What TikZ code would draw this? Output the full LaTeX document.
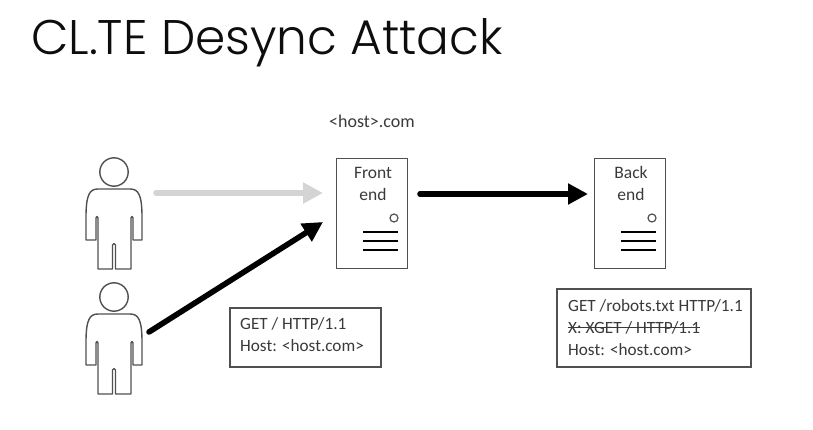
\documentclass[tikz,border=0pt]{standalone}
\usepackage{fontspec}
\setmainfont{Carlito}
\newfontfamily\titlefont{Poppins Light}
\definecolor{ink}{HTML}{3A3A3A}
\definecolor{edge}{HTML}{505050}
\definecolor{paleflow}{HTML}{D4D4D4}
\usetikzlibrary{arrows.meta}
\tikzset{
  x=1pt,y=-1pt,
  body/.style={draw=edge,line width=1.4pt,fill=white,line join=round},
  serverbox/.style={draw=edge,line width=1.2pt,fill=white,minimum width=71pt,minimum height=110.5pt,inner sep=0pt},
  labelbox/.style={draw=edge,line width=1.2pt,fill=white,inner sep=0pt},
  lbl/.style={text=ink,font=\fontsize{17.2pt}{20pt}\selectfont,inner sep=0pt},
  flow/.style={line width=5.6pt,line cap=round,-{Triangle[length=20pt,width=20pt]}},
  rack/.style={line width=2pt,black},
}
\begin{document}
\begin{tikzpicture}
\useasboundingbox (0,0) rectangle (813,430);
\fill[white] (0,0) rectangle (813,430);
\node[anchor=base west,inner sep=0pt,text=black!95,font=\titlefont\fontsize{48.6pt}{50pt}\selectfont] (title) at (31,54.5) {CL.TE Desync Attack};
\node[lbl,font=\fontsize{18pt}{20pt}\selectfont] (host) at (372,121) {<host>.com};

% people
\foreach \n/\y in {usera/172,userb/297}{
  \draw[body] (114,\y) circle (14.2);
  \draw[body] (86,\y+45) .. controls (86,\y+22) and (90,\y+17) .. (98,\y+17) -- (130,\y+17)
    .. controls (138,\y+17) and (142,\y+22) .. (142,\y+45) -- (142,\y+68) -- (133,\y+68) -- (133,\y+46)
    .. controls (133,\y+44) and (131,\y+44) .. (131,\y+46) -- (131,\y+97) -- (115.5,\y+97) -- (115.5,\y+73)
    .. controls (115.5,\y+71) and (112.5,\y+71) .. (112.5,\y+73) -- (112.5,\y+97) -- (98,\y+97) -- (98,\y+46)
    .. controls (98,\y+44) and (96,\y+44) .. (96,\y+46) -- (96,\y+68) -- (86,\y+68) -- cycle;
  \coordinate (\n) at (114,\y+45);
}
\coordinate (usera out) at (156,193);
\coordinate (userb out) at (149,332);

% servers
\node[serverbox] (front) at (372.3,213.5) {};
\node[serverbox] (back) at (630.3,213.5) {};
\node[lbl,align=center,font=\fontsize{17.5pt}{22pt}\selectfont] (frontlabel) at (373,183.5) {Front\\end};
\node[lbl,align=center,font=\fontsize{17.5pt}{22pt}\selectfont] (backlabel) at (631,183.5) {Back\\end};
\foreach \s/\x in {front/394,back/652}{
  \node[draw=edge,circle,line width=1.2pt,minimum size=8pt,inner sep=0pt] (\s dot) at (\x,218) {};
  \foreach \yy in {232,241,250}
    \draw[rack] (\x-31,\yy) -- (\x+4,\yy);
}

% arrows
\coordinate (fronta) at (323,193);
\coordinate (frontb) at (323,222);
\coordinate (backa) at (588,194);
\coordinate (frontout) at (420,194);
\draw[flow,draw=paleflow,fill=paleflow,-{Triangle[length=20pt,width=20pt,fill=paleflow]}] (usera out) -- (fronta);
\draw[flow] (userb out) -- (frontb);
\draw[flow] (frontout) -- (backa);

% request boxes
\node[labelbox,minimum width=151pt,minimum height=59pt] (reqa) at (305.5,337.5) {};
\node[lbl,anchor=base west] (reqa1) at (240,329) {GET / HTTP/1.1};
\node[lbl,anchor=base west] (reqa2) at (240,351) {Host: <host.com>};
\node[labelbox,minimum width=194pt,minimum height=78pt] (reqb) at (654,328) {};
\node[lbl,anchor=base west] (reqb1) at (568,311) {GET /robots.txt HTTP/1.1};
\node[lbl,anchor=base west] (reqb2) at (568,333) {X: XGET / HTTP/1.1};
\node[lbl,anchor=base west] (reqb3) at (568,355) {Host: <host.com>};
\draw[ink,line width=0.8pt] (reqb2.west) ++(0,0.5) -- ([yshift=-0.5pt]reqb2.east);
\end{tikzpicture}
\end{document}
